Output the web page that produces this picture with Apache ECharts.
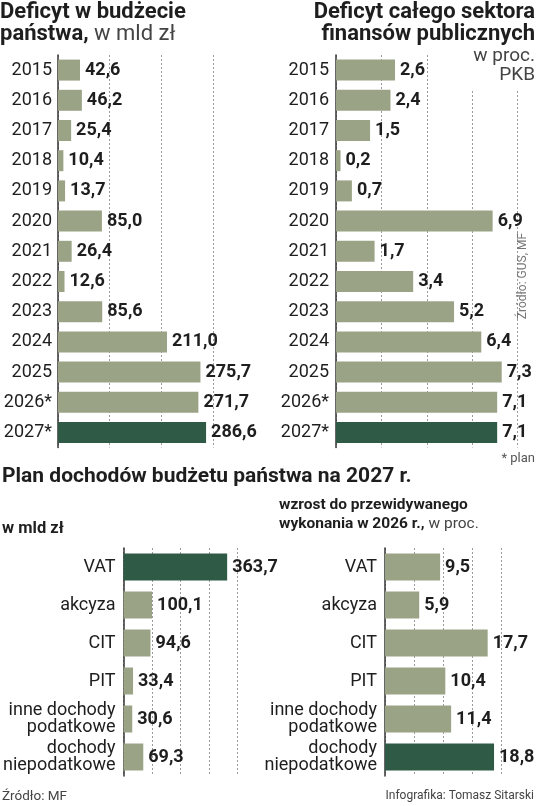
<!DOCTYPE html>
<html>
<head>
<meta charset="utf-8">
<title>Deficyt i dochody budżetu</title>
<script src="https://cdn.jsdelivr.net/npm/echarts@6/dist/echarts.min.js"></script>
<style>
  html, body { margin: 0; padding: 0; background: #fff; }
  #chart { width: 536px; height: 806px; }
</style>
</head>
<body>
<div id="chart"></div>
<script>
// dane
var years = ['2015', '2016', '2017', '2018', '2019', '2020', '2021', '2022', '2023', '2024', '2025', '2026*', '2027*'];
var deficytBudzet = [42.6, 46.2, 25.4, 10.4, 13.7, 85.0, 26.4, 12.6, 85.6, 211.0, 275.7, 271.7, 286.6];
var deficytSektor = [2.6, 2.4, 1.5, 0.2, 0.7, 6.9, 1.7, 3.4, 5.2, 6.4, 7.3, 7.1, 7.1];
var zrodla = ['VAT', 'akcyza', 'CIT', 'PIT', 'inne dochody\npodatkowe', 'dochody\nniepodatkowe'];
var dochodyMld = [363.7, 100.1, 94.6, 33.4, 30.6, 69.3];
var wzrostProc = [9.5, 5.9, 17.7, 10.4, 11.4, 18.8];

var LIGHT = '#9ba386';
var DARK = '#2f5a45';
var TXT = '#1e1e1e';
var FONT = 'Roboto, "Noto Sans", sans-serif';

function items(values, hi) {
    return values.map(function (v, i) {
        return {value: v, itemStyle: {color: i === hi ? DARK : LIGHT}};
    });
}

function plFmt(p) {
    return p.value.toFixed(1).replace('.', ',');
}

function valAxis(idx, max, step) {
    return {
        gridIndex: idx, type: 'value', min: 0, max: max, interval: step,
        axisLine: {show: false}, axisTick: {show: false}, axisLabel: {show: false},
        splitLine: {show: true, lineStyle: {color: '#9a9a9a', width: 1, type: [2, 2]}}
    };
}

function catAxis(idx, cats, size, margin) {
    return {
        gridIndex: idx, type: 'category', data: cats, inverse: true,
        axisLine: {show: true, lineStyle: {color: '#333', width: 1.5}},
        axisTick: {show: false},
        axisLabel: {color: TXT, fontSize: size, fontFamily: FONT, margin: margin, lineHeight: 17}
    };
}

function barSeries(idx, values, hi, width) {
    return {
        type: 'bar', xAxisIndex: idx, yAxisIndex: idx,
        data: items(values, hi), barWidth: width, z: 1,
        label: {
            show: true, position: 'right', distance: 5,
            formatter: plFmt, color: TXT, fontSize: 18, fontWeight: 'bold', fontFamily: FONT
        }
    };
}

var chart = echarts.init(document.getElementById('chart'));
var option = {
    backgroundColor: '#fff',
    animation: false,
    textStyle: {fontFamily: FONT},
    title: [
        {
            left: 0, top: 1, padding: 0,
            text: '{b|Deficyt w budżecie}\n{b|państwa,}{n| w mld zł}',
            textStyle: {
                rich: {
                    b: {fontSize: 22, fontWeight: 'bold', color: TXT, lineHeight: 22, fontFamily: FONT},
                    n: {fontSize: 22, fontWeight: 'normal', color: '#444', lineHeight: 22, fontFamily: FONT}
                }
            }
        },
        {
            right: 1, top: 1, padding: 0,
            text: '{b|Deficyt całego sektora}\n{b|finansów publicznych}',
            textStyle: {
                rich: {
                    b: {fontSize: 22, fontWeight: 'bold', color: TXT, lineHeight: 22, fontFamily: FONT, align: 'right'}
                }
            }
        },
        {
            right: 0, top: 47, padding: [0, 1, 6, 6], backgroundColor: '#fff', z: 10,
            text: '{n|w proc.}\n{n|PKB}',
            textStyle: {
                rich: {
                    n: {fontSize: 19, fontWeight: 'normal', color: '#444', lineHeight: 19, fontFamily: FONT, align: 'right'}
                }
            }
        },
        {
            right: 1, top: 452, padding: 0,
            text: '* plan',
            textStyle: {fontSize: 13, fontWeight: 'normal', color: '#555', fontFamily: FONT}
        },
        {
            left: 2, top: 466, padding: 0,
            text: 'Plan dochodów budżetu państwa na 2027 r.',
            textStyle: {fontSize: 21, fontWeight: 'bold', color: TXT, fontFamily: FONT}
        },
        {
            left: 2, top: 520, padding: 0,
            text: 'w mld zł',
            textStyle: {fontSize: 16.5, fontWeight: 'bold', color: TXT, fontFamily: FONT}
        },
        {
            left: 279, top: 496, padding: 0,
            text: '{b|wzrost do przewidywanego}\n{b|wykonania w 2026 r.,}{n| w proc.}',
            textStyle: {
                rich: {
                    b: {fontSize: 15.5, fontWeight: 'bold', color: TXT, lineHeight: 19, fontFamily: FONT},
                    n: {fontSize: 15.5, fontWeight: 'normal', color: '#444', lineHeight: 19, fontFamily: FONT}
                }
            }
        },
        {
            left: 2, top: 790, padding: 0,
            text: 'Źródło: MF',
            textStyle: {fontSize: 13.5, fontWeight: 'normal', color: '#444', fontFamily: FONT}
        },
        {
            right: 2, top: 790, padding: 0,
            text: 'Infografika: Tomasz Sitarski',
            textStyle: {fontSize: 12, fontWeight: 'normal', color: '#444', fontFamily: FONT}
        }
    ],
    graphic: [
        {
            type: 'text', x: 523, y: 276, rotation: Math.PI / 2, z: 10,
            style: {
                text: 'Źródło: GUS, MF', fill: '#777', fontSize: 12, fontFamily: FONT,
                align: 'center', verticalAlign: 'middle'
            }
        }
    ],
    grid: [
        {left: 58, top: 55, width: 155, height: 392.6},
        {left: 336, top: 55, width: 181.6, height: 392.6},
        {left: 120.7, top: 548, width: 116.8, height: 228},
        {left: 385, top: 548, width: 116, height: 228}
    ],
    xAxis: [
        valAxis(0, 300, 100),
        valAxis(1, 8, 2),
        valAxis(2, 400, 100),
        valAxis(3, 20, 5)
    ],
    yAxis: [
        catAxis(0, years, 18, 6),
        catAxis(1, years, 18, 7),
        catAxis(2, zrodla, 18, 8),
        catAxis(3, zrodla, 18, 8)
    ],
    series: [
        barSeries(0, deficytBudzet, 12, 21),
        barSeries(1, deficytSektor, 12, 21),
        barSeries(2, dochodyMld, 0, 27),
        barSeries(3, wzrostProc, 5, 27)
    ]
};
chart.setOption(option);
</script>
</body>
</html>
